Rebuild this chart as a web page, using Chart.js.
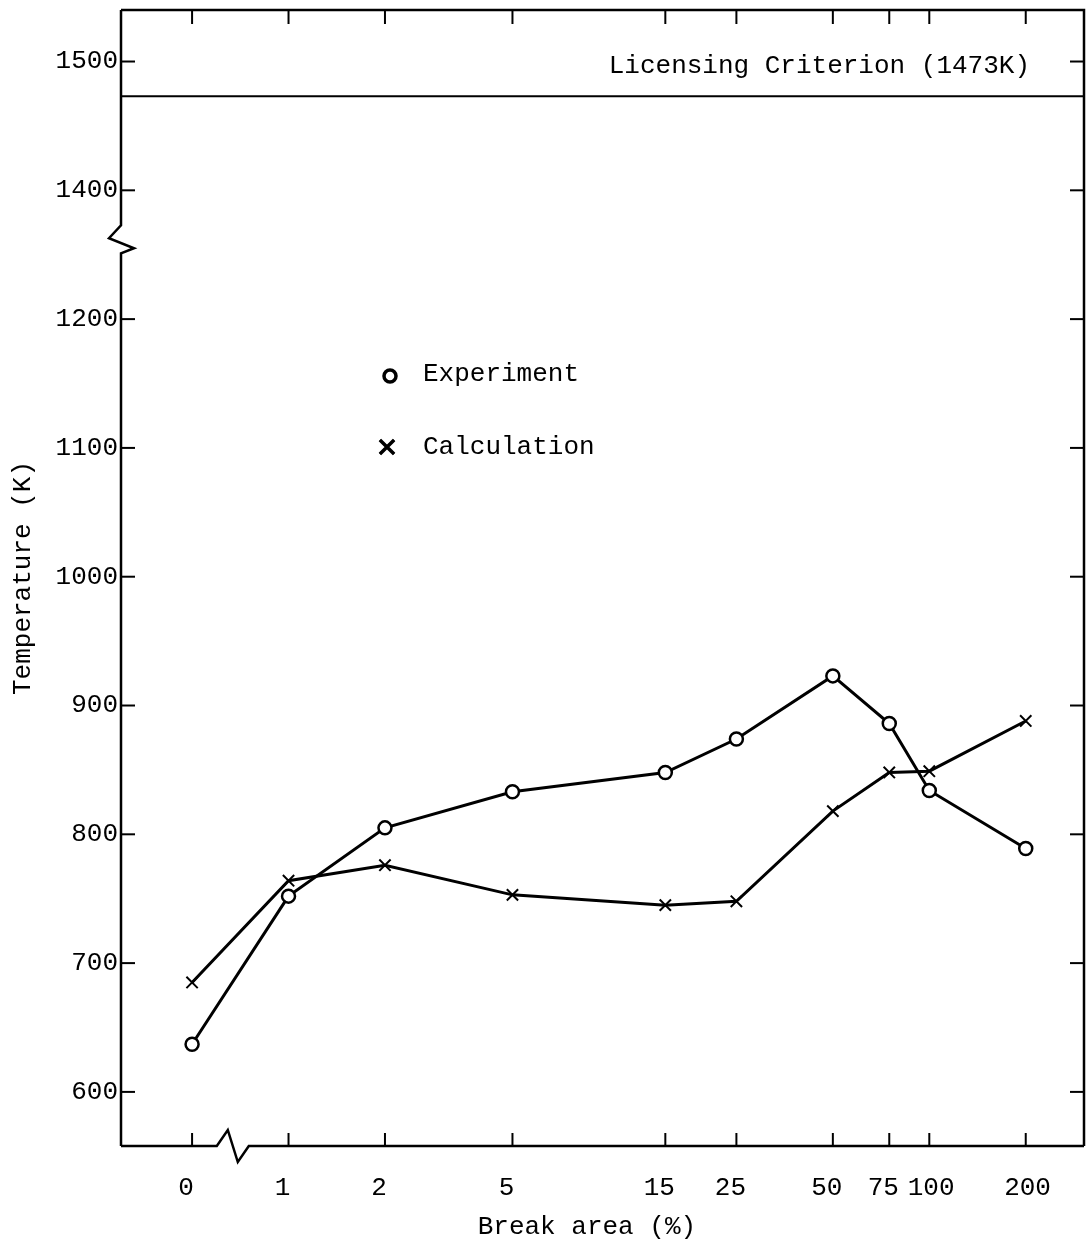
<!DOCTYPE html>
<html>
<head>
<meta charset="utf-8">
<script src="https://cdn.jsdelivr.net/npm/chart.js@4"></script>
<style>
  html, body { margin: 0; padding: 0; background: #fff; overflow: hidden; }
  canvas { display: block; }
</style>
</head>
<body>
<canvas id="tempChart" width="1089" height="1246"></canvas>
<script>
// Break area (%) categories, 0 sits left of the axis break
const breakAreas = [0, 1, 2, 5, 15, 25, 50, 75, 100, 200];
// Peak temperatures (K)
const experimentK = [637, 752, 805, 833, 848, 874, 923, 886, 834, 789];
const calculationK = [685, 764, 776, 753, 745, 748, 818, 848, 849, 888];
const yTickLabels = [600, 700, 800, 900, 1000, 1100, 1200, 1400, 1500];
const licensingK = 1473;

// the y axis skips 1300 K: anything above the break moves down by 100
const Y_BREAK = 1300, Y_GAP = 100;
function toAxisY(k) { return k >= Y_BREAK ? k - Y_GAP : k; }
// x axis is logarithmic, 0 % gets drawn at 0.5 beyond the break
function toAxisX(p) { return p === 0 ? 0.5 : p; }

const FAMILY = '"Liberation Mono", "DejaVu Sans Mono", monospace';
const FONT_PX = 26;
const font = { family: FAMILY, size: FONT_PX };

function pts(values) {
    return values.map((v, i) => ({ x: toAxisX(breakAreas[i]), y: v }));
}

function seg(ctx, coords) {
    ctx.beginPath();
    ctx.moveTo(coords[0][0], coords[0][1]);
    for (let i = 1; i < coords.length; i++) ctx.lineTo(coords[i][0], coords[i][1]);
    ctx.stroke();
}

// frame, inward ticks, axis breaks, criterion line and legend
const paperPlugin = {
    id: 'paper',
    afterDraw(chart) {
        const { ctx, chartArea: a, scales: { x, y } } = chart;
        ctx.save();
        ctx.strokeStyle = '#000';
        ctx.fillStyle = '#000';
        ctx.lineJoin = 'miter';

        // licensing criterion
        const yc = y.getPixelForValue(toAxisY(licensingK));
        ctx.lineWidth = 2;
        seg(ctx, [[a.left, yc], [a.right, yc]]);
        ctx.font = FONT_PX + 'px ' + FAMILY;
        ctx.textAlign = 'right';
        ctx.textBaseline = 'middle';
        ctx.fillText('Licensing Criterion (1473K)', a.right - 54, yc - 30);

        // frame with break marks
        ctx.lineWidth = 2.5;
        seg(ctx, [[a.left, a.top], [a.right, a.top], [a.right, a.bottom]]);
        const by = y.getPixelForValue(1262);
        seg(ctx, [[a.left, a.top], [a.left, by - 14], [a.left - 12, by - 1],
                  [a.left + 13, by + 9], [a.left, by + 14], [a.left, a.bottom]]);
        const bx = x.getPixelForValue(0.67);
        seg(ctx, [[a.left, a.bottom], [bx - 16, a.bottom], [bx - 5, a.bottom - 16],
                  [bx + 5, a.bottom + 16], [bx + 16, a.bottom], [a.right, a.bottom]]);

        // tick marks pointing into the plot on all four sides
        ctx.lineWidth = 2;
        y.ticks.forEach(t => {
            const py = y.getPixelForValue(t.value);
            seg(ctx, [[a.left, py], [a.left + 14, py]]);
            seg(ctx, [[a.right, py], [a.right - 14, py]]);
        });
        x.ticks.forEach(t => {
            const px = x.getPixelForValue(t.value);
            seg(ctx, [[px, a.bottom], [px, a.bottom - 13]]);
            seg(ctx, [[px, a.top], [px, a.top + 14]]);
        });

        // legend
        ctx.textAlign = 'left';
        ctx.lineWidth = 3.5;
        ctx.beginPath();
        ctx.arc(a.left + 269, a.top + 366, 6, 0, Math.PI * 2);
        ctx.stroke();
        ctx.fillText('Experiment', a.left + 302, a.top + 364);
        Chart.helpers.drawPoint(ctx, { pointStyle: 'crossRot', radius: 10, borderWidth: 2 },
            a.left + 266, a.top + 437);
        ctx.lineWidth = 2;
        ctx.stroke();
        ctx.fillText('Calculation', a.left + 302, a.top + 437);
        ctx.restore();
    }
};

new Chart(document.getElementById('tempChart'), {
    type: 'line',
    data: {
        datasets: [{
            label: 'Experiment',
            data: pts(experimentK),
            borderColor: '#000',
            backgroundColor: '#fff',
            borderWidth: 3,
            pointStyle: 'circle',
            pointRadius: 6.5,
            pointBorderWidth: 2.5,
            pointBackgroundColor: '#fff',
            pointBorderColor: '#000',
            tension: 0
        }, {
            label: 'Calculation',
            data: pts(calculationK),
            borderColor: '#000',
            borderWidth: 3,
            pointStyle: 'crossRot',
            pointRadius: 8,
            pointBorderWidth: 2,
            pointBorderColor: '#000',
            tension: 0
        }]
    },
    options: {
        responsive: false,
        animation: false,
        events: [],
        layout: { autoPadding: false, padding: { top: 10, right: 5, left: 0, bottom: 0 } },
        plugins: { legend: { display: false }, tooltip: { enabled: false } },
        scales: {
            x: {
                type: 'logarithmic',
                min: 0.304,
                max: 304,
                grid: { display: false, drawTicks: false },
                border: { display: false },
                afterBuildTicks: s => { s.ticks = breakAreas.map(p => ({ value: toAxisX(p) })); },
                afterFit: s => { s.height = 100; s.paddingLeft = 0; s.paddingRight = 0; },
                ticks: {
                    autoSkip: false, maxRotation: 0, padding: 27, labelOffset: -6,
                    color: '#000', font: font,
                    // three-digit labels sit a little right of their tick
                    callback: (v, i) => (breakAreas[i] >= 100 ? ' ' : '') + breakAreas[i]
                },
                title: {
                    // trailing spaces pull the centred title slightly left
                    display: true, text: 'Break area (%)  ', color: '#000', font: font,
                    padding: { top: 0, bottom: 3 }
                }
            },
            y: {
                type: 'linear',
                min: 558,
                max: 1440,
                grid: { display: false, drawTicks: false },
                border: { display: false },
                afterBuildTicks: s => { s.ticks = yTickLabels.map(k => ({ value: toAxisY(k) })); },
                afterFit: s => { s.width = 121; s.paddingTop = 0; s.paddingBottom = 0; },
                ticks: {
                    padding: 3, color: '#000', font: font,
                    callback: (v, i) => String(yTickLabels[i])
                },
                title: {
                    display: true, text: 'Temperature (K)', color: '#000', font: font,
                    padding: { top: 8, bottom: 0 }
                }
            }
        }
    },
    plugins: [paperPlugin]
});
</script>
</body>
</html>
